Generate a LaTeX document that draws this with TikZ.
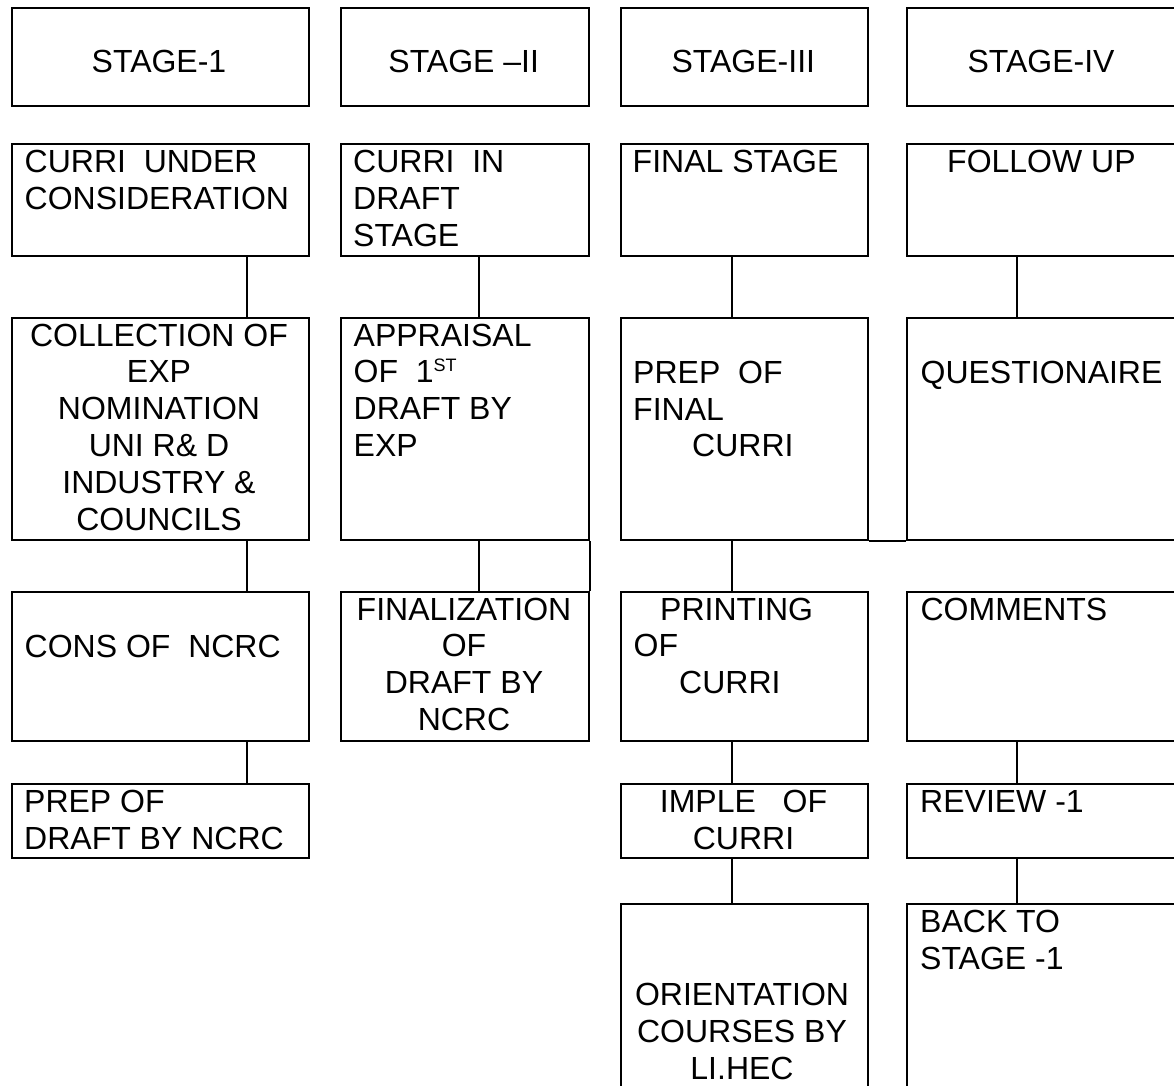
\documentclass[tikz,border=0pt]{standalone}
\usepackage{fontspec}
\setmainfont{Liberation Sans}
\usepackage{tikz}

\newcommand{\leftlines}[1]{\begin{tabular}[t]{@{}l@{}}#1\end{tabular}}
\newcommand{\midlines}[1]{\begin{tabular}[t]{@{}c@{}}#1\end{tabular}}

\tikzset{
  stagebox/.style={draw, rectangle, line width=2pt, inner sep=0pt, anchor=north west},
  boxtext/.style={inner sep=0pt, font=\fontsize{32}{36.8}\selectfont},
  link/.style={line width=2pt}
}

\begin{document}
\begin{tikzpicture}[x=1pt, y=-1pt]
  \path[use as bounding box, clip] (0,0) rectangle (1174,1085);

  % link columns
  \coordinate (l1) at (247.4, 0);
  \coordinate (l2) at (479, 0);
  \coordinate (l3) at (732.3, 0);
  \coordinate (l4) at (1016.7, 0);

  % stage row
  \node[stagebox, minimum width=296.5pt, minimum height=98pt] (stageI) at (11, 7) {};
  \node[stagebox, minimum width=248.5pt, minimum height=98pt] (stageII) at (339.5, 7) {};
  \node[stagebox, minimum width=246.7pt, minimum height=98pt] (stageIII) at (620, 7) {};
  \node[stagebox, minimum width=270pt, minimum height=98pt] (stageIV) at (906, 7) {};

  % stage 1
  \node[stagebox, minimum width=296.5pt, minimum height=112pt] (underc) at (11, 143) {};
  \node[stagebox, minimum width=296.5pt, minimum height=222pt] (collect) at (11, 317) {};
  \node[stagebox, minimum width=296.5pt, minimum height=149pt] (cons) at (11, 591) {};
  \node[stagebox, minimum width=296.5pt, minimum height=74pt] (prepdraft) at (11, 783) {};

  % stage 2
  \node[stagebox, minimum width=248.5pt, minimum height=112pt] (draft) at (339.5, 143) {};
  \node[stagebox, minimum width=248.5pt, minimum height=222pt] (appraisal) at (339.5, 317) {};
  \node[stagebox, minimum width=248.5pt, minimum height=149pt] (finaliz) at (339.5, 591) {};

  % stage 3
  \node[stagebox, minimum width=246.7pt, minimum height=112pt] (final) at (620, 143) {};
  \node[stagebox, minimum width=246.7pt, minimum height=222pt] (prepfinal) at (620, 317) {};
  \node[stagebox, minimum width=246.7pt, minimum height=149pt] (printing) at (620, 591) {};
  \node[stagebox, minimum width=246.7pt, minimum height=74pt] (imple) at (620, 783) {};
  \node[stagebox, minimum width=246.7pt, minimum height=210pt] (orient) at (620, 903) {};

  % stage 4
  \node[stagebox, minimum width=270pt, minimum height=112pt] (follow) at (906, 143) {};
  \node[stagebox, minimum width=270pt, minimum height=222pt] (quest) at (906, 317) {};
  \node[stagebox, minimum width=270pt, minimum height=149pt] (comments) at (906, 591) {};
  \node[stagebox, minimum width=270pt, minimum height=74pt] (review) at (906, 783) {};
  \node[stagebox, minimum width=270pt, minimum height=210pt] (back) at (906, 903) {};

  % texts
  \node[boxtext, anchor=base] (stageItxt) at (159, 72.7) {STAGE-1};
  \node[boxtext, anchor=base] (stageIItxt) at (463.7, 72.7) {STAGE –II};
  \node[boxtext, anchor=base] (stageIIItxt) at (743.3, 72.7) {STAGE-III};
  \node[boxtext, anchor=base] (stageIVtxt) at (1041, 72.7) {STAGE-IV};

  \node[boxtext, anchor=base west] (underctxt) at (24.5, 172.7) {\leftlines{CURRI~ UNDER\\CONSIDERATION}};
  \node[boxtext, anchor=base] (collecttxt) at (159, 346) {\midlines{COLLECTION OF\\EXP\\NOMINATION\\UNI R\& D\\INDUSTRY \&\\COUNCILS}};
  \node[boxtext, anchor=base west] (constxt) at (24.5, 657.3) {CONS OF~ NCRC};
  \node[boxtext, anchor=base west] (prepdrafttxt) at (24, 812.7) {\leftlines{PREP OF\\DRAFT BY NCRC}};

  \node[boxtext, anchor=base west] (drafttxt) at (353, 172.7) {\leftlines{CURRI~ IN\\DRAFT\\STAGE}};
  \node[boxtext, anchor=base west] (appraisaltxt) at (353.5, 346) {\leftlines{APPRAISAL\\OF~ 1\raisebox{11.5pt}{\fontsize{18}{18}\selectfont ST}\\DRAFT BY\\EXP}};
  \node[boxtext, anchor=base] (finaliztxt) at (464, 620) {\midlines{FINALIZATION\\OF\\DRAFT BY\\NCRC}};

  \node[boxtext, anchor=base west] (finaltxt) at (632.5, 172.7) {FINAL STAGE};
  \node[boxtext, anchor=base west] (prepfinaltxt) at (633, 383.3) {\leftlines{PREP~ OF\\FINAL\\\hspace{59pt}CURRI}};
  \node[boxtext, anchor=base west] (printingtxt) at (633.5, 620) {\leftlines{\hspace{26.5pt}PRINTING\\OF\\\hspace{45.5pt}CURRI}};
  \node[boxtext, anchor=base] (impletxt) at (743.5, 812.7) {\midlines{IMPLE~~ OF\\CURRI}};
  \node[boxtext, anchor=base] (orienttxt) at (742, 1005.7) {\midlines{ORIENTATION\\COURSES BY\\LI.HEC}};

  \node[boxtext, anchor=base west] (followtxt) at (947, 172.7) {FOLLOW UP};
  \node[boxtext, anchor=base west] (questtxt) at (920.4, 383.3) {QUESTIONAIRE};
  \node[boxtext, anchor=base west] (commentstxt) at (920.4, 620) {COMMENTS};
  \node[boxtext, anchor=base west] (reviewtxt) at (920, 812.7) {REVIEW -1};
  \node[boxtext, anchor=base west] (backtxt) at (920, 932.7) {\leftlines{BACK TO\\STAGE -1}};

  % links
  \draw[link] (underc.south -| l1) -- (collect.north -| l1);
  \draw[link] (collect.south -| l1) -- (cons.north -| l1);
  \draw[link] (cons.south -| l1) -- (prepdraft.north -| l1);

  \draw[link] (draft.south -| l2) -- (appraisal.north -| l2);
  \draw[link] (appraisal.south -| l2) -- (finaliz.north -| l2);
  \draw[link] (appraisal.south east) -- (finaliz.north east);

  \draw[link] (final.south -| l3) -- (prepfinal.north -| l3);
  \draw[link] (prepfinal.south -| l3) -- (printing.north -| l3);
  \draw[link] (printing.south -| l3) -- (imple.north -| l3);
  \draw[link] (imple.south -| l3) -- (orient.north -| l3);
  \draw[link] (prepfinal.south east) -- (quest.south west);

  \draw[link] (follow.south -| l4) -- (quest.north -| l4);
  \draw[link] (comments.south -| l4) -- (review.north -| l4);
  \draw[link] (review.south -| l4) -- (back.north -| l4);
\end{tikzpicture}
\end{document}
